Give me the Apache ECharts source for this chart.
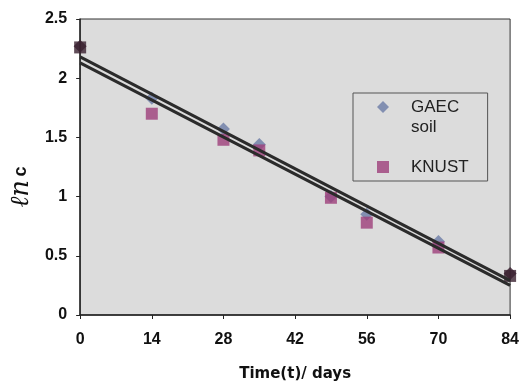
<!DOCTYPE html>
<html>
<head>
<meta charset="utf-8">
<script src="https://cdn.jsdelivr.net/npm/echarts@6/dist/echarts.min.js"></script>
<style>
  html, body { margin: 0; padding: 0; background: #fff; }
  #chart { width: 522px; height: 387px; }
</style>
</head>
<body>
<div id="chart"></div>
<script>
// days sampled
const days = [0, 14, 28, 35, 49, 56, 70, 84];
// ln c values
const gaec = [2.27, 1.83, 1.57, 1.44, 1.00, 0.85, 0.62, 0.35];
const knust = [2.26, 1.70, 1.48, 1.39, 0.99, 0.78, 0.57, 0.33];
// fitted trend lines (end points)
const trendDays = [0, 84];
const trendA = [2.18, 0.29];
const trendB = [2.13, 0.25];

const pair = (xs, ys) => xs.map((x, i) => [x, ys[i]]);
// the end points look almost black in the picture
const dark = (arr) => arr.map((p, i) => (i === 0 || i === arr.length - 1)
  ? {value: p, itemStyle: {color: '#3a2030'}} : p);

const labelFont = {fontSize: 16, fontWeight: 'bold', color: '#111',
  fontFamily: 'Liberation Sans, Arial, sans-serif'};

const chart = echarts.init(document.getElementById('chart'));
chart.setOption({
  backgroundColor: '#fff',
  animation: false,
  textStyle: {fontFamily: 'Liberation Sans, Arial, sans-serif'},
  grid: {
    left: 78, right: 11, top: 19, bottom: 69,
    show: true,
    backgroundColor: '#dcdcdc',
    borderColor: '#333',
    borderWidth: 1
  },
  legend: {
    orient: 'vertical',
    left: 353,
    top: 93,
    padding: [4, 19, 4, 24],
    itemGap: 40,
    itemWidth: 12,
    itemHeight: 12,
    borderColor: '#555',
    borderWidth: 1,
    backgroundColor: '#dcdcdc',
    textStyle: {fontSize: 17, color: '#222', padding: [0, 0, 0, 17], lineHeight: 20},
    // second word of the first entry sits on its own line (see graphic)
    formatter: (name) => name.split(' ')[0],
    data: ['GAEC soil', 'KNUST']
  },
  graphic: [{
    type: 'text',
    left: 411,
    top: 119,
    z: 100,
    zlevel: 1,
    style: {text: 'soil', fontSize: 17, fill: '#222',
      fontFamily: 'Liberation Sans, Arial, sans-serif'}
  }],
  xAxis: {
    type: 'value',
    min: 0, max: 84, interval: 14,
    name: 'Time(t)/ days',
    nameLocation: 'middle',
    nameGap: 52,
    nameTextStyle: {fontSize: 15, fontWeight: 'bold', color: '#111',
      fontFamily: 'DejaVu Sans, sans-serif'},
    splitLine: {show: false},
    axisLine: {lineStyle: {color: '#222', width: 1.5}},
    axisTick: {length: 4, lineStyle: {color: '#222'}},
    axisLabel: Object.assign({margin: 17}, labelFont)
  },
  yAxis: {
    type: 'value',
    min: 0, max: 2.5, interval: 0.5,
    name: '{l|ℓn} {c|c}',
    nameLocation: 'middle',
    nameRotate: 90,
    nameGap: 36,
    nameTextStyle: {
      padding: [0, 40, 0, 0],
      rich: {
        l: {fontSize: 26, fontStyle: 'italic', fontFamily: 'DejaVu Serif, serif', color: '#111'},
        c: {fontSize: 18, fontWeight: 'bold', fontFamily: 'Liberation Sans, Arial, sans-serif', color: '#111'}
      }
    },
    splitLine: {show: false},
    axisLine: {show: true, lineStyle: {color: '#222', width: 1.5}},
    axisTick: {show: true, length: 4, lineStyle: {color: '#222'}},
    axisLabel: Object.assign({margin: 13}, labelFont)
  },
  series: [
    {
      name: 'GAEC soil',
      type: 'scatter',
      symbol: 'diamond',
      symbolSize: 13,
      itemStyle: {color: '#6b7ca6'},
      data: dark(pair(days, gaec)),
      z: 2
    },
    {
      name: 'KNUST',
      type: 'scatter',
      symbol: 'rect',
      symbolSize: 12,
      itemStyle: {color: '#9e3f7a'},
      data: dark(pair(days, knust)),
      z: 3
    },
    {
      type: 'line',
      data: pair(trendDays, trendA),
      symbol: 'none',
      lineStyle: {color: '#2b2b2b', width: 3},
      z: 4
    },
    {
      type: 'line',
      data: pair(trendDays, trendB),
      symbol: 'none',
      lineStyle: {color: '#2b2b2b', width: 3},
      z: 4
    }
  ]
});
</script>
</body>
</html>
